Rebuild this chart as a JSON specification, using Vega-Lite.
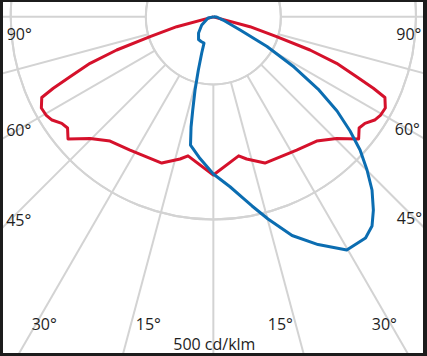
{
  "$schema": "https://vega.github.io/schema/vega-lite/v6.json",
  "width": 427,
  "height": 356,
  "autosize": {"type": "fit", "contains": "padding"},
  "padding": {"left": 3, "top": 2, "right": 4, "bottom": 3},
  "background": "#1c1c1c",
  "view": {"stroke": null, "fill": "white"},
  "datasets": {
    "circles": [{"r": 100}, {"r": 200}, {"r": 300}, {"r": 400}, {"r": 500}],
    "spokes": [
      {"angle": 0, "x": 0, "y": 100, "x2": 0, "y2": 800},
      {"angle": 15, "x": 25.88, "y": 96.59, "x2": 207.1, "y2": 772.7},
      {"angle": -15, "x": -25.88, "y": 96.59, "x2": -207.1, "y2": 772.7},
      {"angle": 30, "x": 50, "y": 86.6, "x2": 400, "y2": 692.8},
      {"angle": -30, "x": -50, "y": 86.6, "x2": -400, "y2": 692.8},
      {"angle": 45, "x": 70.71, "y": 70.71, "x2": 565.7, "y2": 565.7},
      {"angle": -45, "x": -70.71, "y": 70.71, "x2": -565.7, "y2": 565.7},
      {"angle": 60, "x": 86.6, "y": 50, "x2": 692.8, "y2": 400},
      {"angle": -60, "x": -86.6, "y": 50, "x2": -692.8, "y2": 400},
      {"angle": 75, "x": 96.59, "y": 25.88, "x2": 772.7, "y2": 207.1},
      {"angle": -75, "x": -96.59, "y": 25.88, "x2": -772.7, "y2": 207.1},
      {"angle": 90, "x": 100, "y": 0, "x2": 800, "y2": 0},
      {"angle": -90, "x": -100, "y": 0, "x2": -800, "y2": 0}
    ],
    "curves": [
      {"plane": "C0-C180", "i": 1, "x": 0, "y": 0},
      {"plane": "C0-C180", "i": 2, "x": -54.2, "y": 14.6},
      {"plane": "C0-C180", "i": 3, "x": -93.7, "y": 29.4},
      {"plane": "C0-C180", "i": 4, "x": -143.1, "y": 49.1},
      {"plane": "C0-C180", "i": 5, "x": -182.6, "y": 68.8},
      {"plane": "C0-C180", "i": 6, "x": -212.2, "y": 88.6},
      {"plane": "C0-C180", "i": 7, "x": -237.0, "y": 105.8},
      {"plane": "C0-C180", "i": 8, "x": -254.1, "y": 119.4},
      {"plane": "C0-C180", "i": 9, "x": -254.7, "y": 135.0},
      {"plane": "C0-C180", "i": 10, "x": -247.8, "y": 145.4},
      {"plane": "C0-C180", "i": 11, "x": -238.9, "y": 152.8},
      {"plane": "C0-C180", "i": 12, "x": -224.5, "y": 157.7},
      {"plane": "C0-C180", "i": 13, "x": -215.9, "y": 164.6},
      {"plane": "C0-C180", "i": 14, "x": -215.2, "y": 180.9},
      {"plane": "C0-C180", "i": 15, "x": -182.6, "y": 180.2},
      {"plane": "C0-C180", "i": 16, "x": -153.0, "y": 183.9},
      {"plane": "C0-C180", "i": 17, "x": -123.4, "y": 197.2},
      {"plane": "C0-C180", "i": 18, "x": -76.4, "y": 216.5},
      {"plane": "C0-C180", "i": 19, "x": -49.3, "y": 210.5},
      {"plane": "C0-C180", "i": 20, "x": -37.5, "y": 205.8},
      {"plane": "C0-C180", "i": 21, "x": 0, "y": 234.2},
      {"plane": "C0-C180", "i": 22, "x": 37.5, "y": 205.8},
      {"plane": "C0-C180", "i": 23, "x": 49.3, "y": 210.5},
      {"plane": "C0-C180", "i": 24, "x": 76.4, "y": 216.5},
      {"plane": "C0-C180", "i": 25, "x": 123.4, "y": 197.2},
      {"plane": "C0-C180", "i": 26, "x": 153.0, "y": 183.9},
      {"plane": "C0-C180", "i": 27, "x": 182.6, "y": 180.2},
      {"plane": "C0-C180", "i": 28, "x": 215.2, "y": 180.9},
      {"plane": "C0-C180", "i": 29, "x": 215.9, "y": 164.6},
      {"plane": "C0-C180", "i": 30, "x": 224.5, "y": 157.7},
      {"plane": "C0-C180", "i": 31, "x": 238.9, "y": 152.8},
      {"plane": "C0-C180", "i": 32, "x": 247.8, "y": 145.4},
      {"plane": "C0-C180", "i": 33, "x": 254.7, "y": 135.0},
      {"plane": "C0-C180", "i": 34, "x": 254.1, "y": 119.4},
      {"plane": "C0-C180", "i": 35, "x": 237.0, "y": 105.8},
      {"plane": "C0-C180", "i": 36, "x": 212.2, "y": 88.6},
      {"plane": "C0-C180", "i": 37, "x": 182.6, "y": 68.8},
      {"plane": "C0-C180", "i": 38, "x": 143.1, "y": 49.1},
      {"plane": "C0-C180", "i": 39, "x": 93.7, "y": 29.4},
      {"plane": "C0-C180", "i": 40, "x": 54.2, "y": 14.6},
      {"plane": "C0-C180", "i": 41, "x": 0, "y": 0},
      {"plane": "C90-C270", "i": 1, "x": 0, "y": 0},
      {"plane": "C90-C270", "i": 2, "x": -7.8, "y": 1.7},
      {"plane": "C90-C270", "i": 3, "x": -17.2, "y": 12.1},
      {"plane": "C90-C270", "i": 4, "x": -21.9, "y": 23.9},
      {"plane": "C90-C270", "i": 5, "x": -21.9, "y": 33.5},
      {"plane": "C90-C270", "i": 6, "x": -18.2, "y": 36.5},
      {"plane": "C90-C270", "i": 7, "x": -13.8, "y": 38.8},
      {"plane": "C90-C270", "i": 8, "x": -17.2, "y": 53.5},
      {"plane": "C90-C270", "i": 9, "x": -22.2, "y": 78.7},
      {"plane": "C90-C270", "i": 10, "x": -27.1, "y": 108.3},
      {"plane": "C90-C270", "i": 11, "x": -30.5, "y": 137.9},
      {"plane": "C90-C270", "i": 12, "x": -33.0, "y": 163.1},
      {"plane": "C90-C270", "i": 13, "x": -33.8, "y": 189.8},
      {"plane": "C90-C270", "i": 14, "x": -19.7, "y": 209.8},
      {"plane": "C90-C270", "i": 15, "x": 0, "y": 232.7},
      {"plane": "C90-C270", "i": 16, "x": 24.7, "y": 251.6},
      {"plane": "C90-C270", "i": 17, "x": 44.0, "y": 268.3},
      {"plane": "C90-C270", "i": 18, "x": 57.3, "y": 280.1},
      {"plane": "C90-C270", "i": 19, "x": 81.0, "y": 299.3},
      {"plane": "C90-C270", "i": 20, "x": 116.6, "y": 323.8},
      {"plane": "C90-C270", "i": 21, "x": 155.1, "y": 337.2},
      {"plane": "C90-C270", "i": 22, "x": 197.6, "y": 345.3},
      {"plane": "C90-C270", "i": 23, "x": 225.4, "y": 327.5},
      {"plane": "C90-C270", "i": 24, "x": 235.0, "y": 309.8},
      {"plane": "C90-C270", "i": 25, "x": 237.0, "y": 286.1},
      {"plane": "C90-C270", "i": 26, "x": 235.0, "y": 256.4},
      {"plane": "C90-C270", "i": 27, "x": 227.6, "y": 226.8},
      {"plane": "C90-C270", "i": 28, "x": 217.3, "y": 197.2},
      {"plane": "C90-C270", "i": 29, "x": 202.5, "y": 169.1},
      {"plane": "C90-C270", "i": 30, "x": 183.2, "y": 139.4},
      {"plane": "C90-C270", "i": 31, "x": 155.1, "y": 106.9},
      {"plane": "C90-C270", "i": 32, "x": 119.6, "y": 74.3},
      {"plane": "C90-C270", "i": 33, "x": 79.5, "y": 43.9},
      {"plane": "C90-C270", "i": 34, "x": 39.7, "y": 19.5},
      {"plane": "C90-C270", "i": 35, "x": 14.4, "y": 4.7},
      {"plane": "C90-C270", "i": 36, "x": 5.0, "y": 0.2},
      {"plane": "C90-C270", "i": 37, "x": 0, "y": 0}
    ],
    "labels": [
      {"text": "90°", "x": -287.4, "y": 26.9},
      {"text": "90°", "x": 289.6, "y": 26.9},
      {"text": "60°", "x": -288.1, "y": 169.1},
      {"text": "60°", "x": 287.4, "y": 167.6},
      {"text": "45°", "x": -288.1, "y": 302.4},
      {"text": "45°", "x": 290.4, "y": 299.5},
      {"text": "30°", "x": -250.4, "y": 456.5},
      {"text": "15°", "x": -96.3, "y": 456.5},
      {"text": "15°", "x": 99.3, "y": 456.5},
      {"text": "30°", "x": 253.3, "y": 456.5},
      {"text": "500 cd/klm", "x": 1.5, "y": 486.1}
    ]
  },
  "layer": [
    {
      "data": {"name": "circles"},
      "mark": {"type": "arc", "filled": false, "fillOpacity": 0, "stroke": "#d3d3d3", "strokeWidth": 2, "theta": 0, "theta2": 6.2832, "clip": true},
      "encoding": {
        "x": {"datum": 0, "type": "quantitative", "scale": {"domain": [-311.5, 310.5], "nice": false, "zero": false}, "axis": null},
        "y": {"datum": 0, "type": "quantitative", "scale": {"domain": [-22, 497.8], "nice": false, "zero": false, "reverse": true}, "axis": null},
        "radius": {"field": "r", "type": "quantitative", "scale": {"type": "linear", "domain": [0, 500], "range": [0, 337.6], "zero": true, "nice": false}}
      }
    },
    {
      "data": {"name": "spokes"},
      "mark": {"type": "rule", "stroke": "#d3d3d3", "strokeWidth": 2, "clip": true},
      "encoding": {
        "x": {"field": "x", "type": "quantitative", "axis": null},
        "y": {"field": "y", "type": "quantitative", "axis": null},
        "x2": {"field": "x2"},
        "y2": {"field": "y2"}
      }
    },
    {
      "data": {"name": "curves"},
      "mark": {"type": "line", "strokeWidth": 3, "clip": true, "strokeJoin": "round"},
      "encoding": {
        "x": {"field": "x", "type": "quantitative", "axis": null},
        "y": {"field": "y", "type": "quantitative", "axis": null},
        "order": {"field": "i", "type": "quantitative"},
        "color": {"field": "plane", "type": "nominal", "scale": {"domain": ["C0-C180", "C90-C270"], "range": ["#d5112b", "#0b6db1"]}, "legend": null}
      }
    },
    {
      "data": {"name": "labels"},
      "mark": {"type": "text", "font": "Open Sans", "fontSize": 16, "color": "#1e1e1e", "align": "center", "baseline": "middle"},
      "encoding": {
        "x": {"field": "x", "type": "quantitative", "axis": null},
        "y": {"field": "y", "type": "quantitative", "axis": null},
        "text": {"field": "text", "type": "nominal"}
      }
    }
  ]
}
